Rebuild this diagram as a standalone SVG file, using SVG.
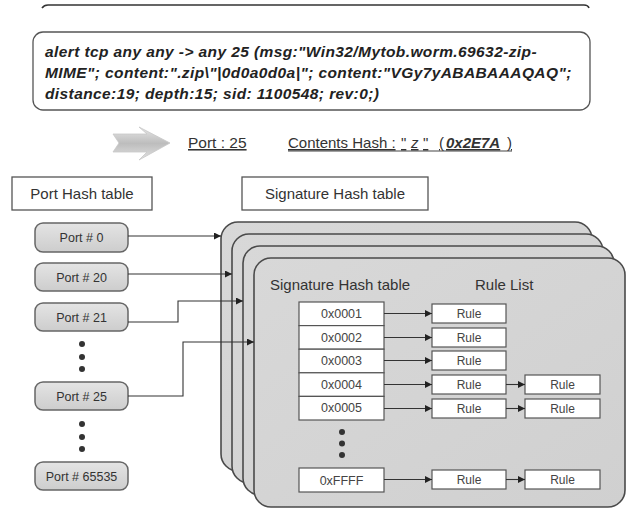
<svg xmlns="http://www.w3.org/2000/svg" width="635" height="510" viewBox="0 0 635 510">
<defs>
<linearGradient id="gPort" x1="0" y1="0" x2="0" y2="1">
<stop offset="0" stop-color="#e4e4e4"/><stop offset="1" stop-color="#cdcdcd"/>
</linearGradient>
<linearGradient id="gCard" x1="0" y1="0" x2="1" y2="1">
<stop offset="0" stop-color="#d8d8d8"/><stop offset="1" stop-color="#d0d0d0"/>
</linearGradient>
<linearGradient id="gArrow" x1="0" y1="0" x2="0" y2="1">
<stop offset="0" stop-color="#e6e6e6"/><stop offset="0.5" stop-color="#bdbdbd"/><stop offset="1" stop-color="#e2e2e2"/>
</linearGradient>
<marker id="ah" viewBox="0 0 10 10" refX="10" refY="5" markerWidth="7" markerHeight="7" markerUnits="userSpaceOnUse" orient="auto">
<path d="M0,0 L10,5 L0,10 z" fill="#222"/>
</marker>
<style>
text{font-family:"Liberation Sans",Arial,sans-serif;fill:#333}
.lbl{font-size:15px}
.rule{font-size:15.5px;font-style:italic;font-weight:bold;letter-spacing:0.4px;fill:#222}
.port rect{fill:url(#gPort);stroke:#666;stroke-width:1.5}
.port text{font-size:12.5px;text-anchor:middle;fill:#333}
.card{fill:url(#gCard);stroke:#4a4a4a;stroke-width:1.6}
.hb{fill:#fff;stroke:#555;stroke-width:1.2}
.hb-t{font-size:12.5px;text-anchor:middle;fill:#444}
.rb{fill:#fff;stroke:#555;stroke-width:1.2}
.rb-t{font-size:12px;text-anchor:middle;fill:#444}
.con{fill:none;stroke:#333;stroke-width:1.1;marker-end:url(#ah)}
.dot{fill:#333}
.tb{fill:#fff;stroke:#555;stroke-width:1.3}
</style>
</defs>
<rect width="635" height="510" fill="#fff"/>

<!-- cropped top edge -->
<path d="M42,8 Q44,5 48,5 L584,5 Q588,5 589,8" fill="none" stroke="#333" stroke-width="1.6"/>

<!-- rule text box -->
<g id="snort-rule">
<rect class="tb" x="33" y="32" width="557" height="78" rx="10"/>
<text x="45" y="57" class="rule">alert tcp any any -&gt; any 25 (msg:"Win32/Mytob.worm.69632-zip-</text>
<text x="45" y="78" class="rule">MIME"; content:".zip\"|0d0a0d0a|"; content:"VGy7yABABAAAQAQ";</text>
<text x="45" y="99" class="rule">distance:19; depth:15; sid: 1100548; rev:0;)</text>
</g>

<!-- fat arrow and hash summary -->
<g id="summary">
<polygon points="113,134 147,134 139,127 170,143 139,160 147,152 113,152 119,143" fill="url(#gArrow)" stroke="#c8c8c8" stroke-width="0.8"/>
<text x="188" y="148" font-size="15.5" text-decoration="underline">Port : 25</text>
<line x1="288" y1="151" x2="512" y2="151" stroke="#444" stroke-width="1.2"/>
<text y="148" font-size="15" text-decoration="underline"><tspan x="288">Contents Hash :</tspan><tspan x="401">"</tspan><tspan x="411" font-style="italic">z</tspan><tspan x="423">"</tspan><tspan x="439">(</tspan><tspan x="446" font-weight="bold" font-style="italic">0x2E7A</tspan><tspan x="507">)</tspan></text>
</g>

<!-- header boxes -->
<g id="port-hash-title">
<rect x="12" y="177" width="140" height="33" fill="#fff" stroke="#555" stroke-width="1.3"/>
<text x="82" y="199" class="lbl" text-anchor="middle">Port Hash table</text>
</g>
<g id="sig-hash-title">
<rect x="242" y="177" width="186" height="33" fill="#fff" stroke="#555" stroke-width="1.3"/>
<text x="335" y="199" class="lbl" text-anchor="middle">Signature Hash table</text>
</g>

<!-- stacked cards -->
<g id="card-1"><rect class="card" x="221" y="222" width="371" height="249" rx="17"/></g>
<g id="card-2"><rect class="card" x="232" y="234" width="371" height="249" rx="17"/></g>
<g id="card-3"><rect class="card" x="243" y="246" width="371" height="249" rx="17"/></g>
<g id="card-4">
<rect class="card" x="254" y="258" width="371" height="249" rx="17"/>
<text x="270" y="290" class="lbl" fill="#333">Signature Hash table</text>
<text x="475" y="290" class="lbl" fill="#333">Rule List</text>
</g>

<!-- port nodes -->
<g id="port-0" class="port"><rect x="35" y="223" width="93" height="29" rx="8"/><text x="81.5" y="242">Port # 0</text></g>
<g id="port-20" class="port"><rect x="35" y="263" width="93" height="28" rx="8"/><text x="81.5" y="282">Port # 20</text></g>
<g id="port-21" class="port"><rect x="35" y="303" width="93" height="28" rx="8"/><text x="81.5" y="322">Port # 21</text></g>
<g id="port-25" class="port"><rect x="35" y="382" width="93" height="28" rx="8"/><text x="81.5" y="401">Port # 25</text></g>
<g id="port-65535" class="port"><rect x="35" y="462" width="93" height="28" rx="8"/><text x="81.5" y="481">Port # 65535</text></g>
<g id="port-dots">
<circle class="dot" cx="82" cy="344" r="3"/><circle class="dot" cx="82" cy="357" r="3"/><circle class="dot" cx="82" cy="369" r="3"/>
<circle class="dot" cx="82" cy="424" r="3"/><circle class="dot" cx="82" cy="437" r="3"/><circle class="dot" cx="82" cy="449" r="3"/>
</g>

<!-- signature hash entries -->
<g id="h-0001"><rect class="hb" x="299" y="302" width="85" height="23.6"/><text class="hb-t" x="341.5" y="318">0x0001</text></g>
<g id="h-0002"><rect class="hb" x="299" y="325.6" width="85" height="23.6"/><text class="hb-t" x="341.5" y="341.6">0x0002</text></g>
<g id="h-0003"><rect class="hb" x="299" y="349.2" width="85" height="23.6"/><text class="hb-t" x="341.5" y="365.2">0x0003</text></g>
<g id="h-0004"><rect class="hb" x="299" y="372.8" width="85" height="23.6"/><text class="hb-t" x="341.5" y="388.8">0x0004</text></g>
<g id="h-0005"><rect class="hb" x="299" y="396.4" width="85" height="23.6"/><text class="hb-t" x="341.5" y="412.4">0x0005</text></g>
<g id="h-dots"><circle class="dot" cx="342" cy="432" r="3"/><circle class="dot" cx="342" cy="443.5" r="3"/><circle class="dot" cx="342" cy="455" r="3"/></g>
<g id="h-ffff"><rect class="hb" x="299" y="468" width="85" height="24"/><text class="hb-t" x="341.5" y="484.5">0xFFFF</text></g>

<!-- rules -->
<g id="r1"><rect class="rb" x="432" y="304" width="74" height="19"/><text class="rb-t" x="469" y="318">Rule</text></g>
<g id="r2"><rect class="rb" x="432" y="328" width="74" height="19"/><text class="rb-t" x="469" y="342">Rule</text></g>
<g id="r3"><rect class="rb" x="432" y="351" width="74" height="19"/><text class="rb-t" x="469" y="365">Rule</text></g>
<g id="r4"><rect class="rb" x="432" y="375" width="74" height="19"/><text class="rb-t" x="469" y="389">Rule</text></g>
<g id="r4b"><rect class="rb" x="525" y="375" width="75" height="19"/><text class="rb-t" x="562.5" y="389">Rule</text></g>
<g id="r5"><rect class="rb" x="432" y="399" width="74" height="19"/><text class="rb-t" x="469" y="413">Rule</text></g>
<g id="r5b"><rect class="rb" x="525" y="399" width="75" height="19"/><text class="rb-t" x="562.5" y="413">Rule</text></g>
<g id="rf"><rect class="rb" x="432" y="470" width="74" height="19"/><text class="rb-t" x="469" y="484">Rule</text></g>
<g id="rfb"><rect class="rb" x="525" y="470" width="75" height="19"/><text class="rb-t" x="562.5" y="484">Rule</text></g>

<!-- connectors -->
<g id="connectors">
<path class="con" d="M128,236 H221"/>
<path class="con" d="M128,274 H232"/>
<path class="con" d="M128,322 H178 V301 H243"/>
<path class="con" d="M128,396 H183 V342 H254"/>
<path class="con" d="M384,313.5 H432"/>
<path class="con" d="M384,337.5 H432"/>
<path class="con" d="M384,360.5 H432"/>
<path class="con" d="M384,384.5 H432"/>
<path class="con" d="M384,408.5 H432"/>
<path class="con" d="M384,479.5 H432"/>
<path class="con" d="M506,384.5 H525"/>
<path class="con" d="M506,408.5 H525"/>
<path class="con" d="M506,479.5 H525"/>
</g>
</svg>
